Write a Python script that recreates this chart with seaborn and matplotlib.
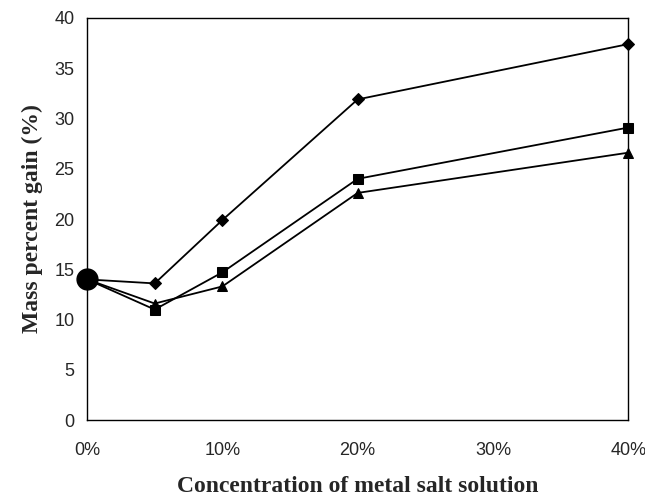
import pandas as pd
import matplotlib
import matplotlib.pyplot as plt
import seaborn as sns

matplotlib.use('Agg')

# concentration of metal salt solution (%)
conc = [0, 5, 10, 20, 40]
diamond = [14.0, 13.6, 19.9, 31.9, 37.4]
square = [14.0, 11.0, 14.7, 24.0, 29.1]
triangle = [14.0, 11.6, 13.3, 22.6, 26.6]
start_val = 14.0

x_ticks = [0, 10, 20, 30, 40]
x_labels = ['0%', '10%', '20%', '30%', '40%']
y_ticks = [0, 5, 10, 15, 20, 25, 30, 35, 40]

df = pd.DataFrame({
    'conc': conc * 3,
    'gain': diamond + square + triangle,
    'series': ['D'] * 5 + ['S'] * 5 + ['T'] * 5,
})

sns.set_style('white')
plt.rcParams['font.family'] = ['Liberation Sans Narrow', 'Liberation Sans', 'DejaVu Sans']

fig = plt.figure(figsize=(6.45, 4.99), dpi=100)
ax = fig.add_axes([0.135, 0.158, 0.839, 0.806])

sns.lineplot(data=df, x='conc', y='gain', hue='series', style='series',
             palette=['black'] * 3, markers={'D': 'D', 'S': 's', 'T': '^'},
             markersize=6.5, dashes=False, linewidth=1.3, legend=False, ax=ax,
             markeredgecolor='black', clip_on=False, zorder=4)
ax.plot([0], [start_val], 'o', color='black', markersize=15, zorder=5, clip_on=False)

ax.set_xlim(0, 40)
ax.set_ylim(0, 40)
ax.set_xticks(x_ticks)
ax.set_xticklabels(x_labels)
ax.set_yticks(y_ticks)
ax.tick_params(axis='x', direction='in', length=2, width=0.6, pad=16, labelsize=13)
ax.tick_params(axis='y', direction='in', length=2, width=0.6, pad=9, labelsize=13)
for s in ax.spines.values():
    s.set_color('black')
    s.set_linewidth(1.0)

ax.set_xlabel('Concentration of metal salt solution', family='Liberation Serif',
              fontweight='bold', fontsize=17, labelpad=12)
ax.set_ylabel('Mass percent gain (%)', family='Liberation Serif',
              fontweight='bold', fontsize=17, labelpad=8)

fig.savefig('out.png', dpi=100)
